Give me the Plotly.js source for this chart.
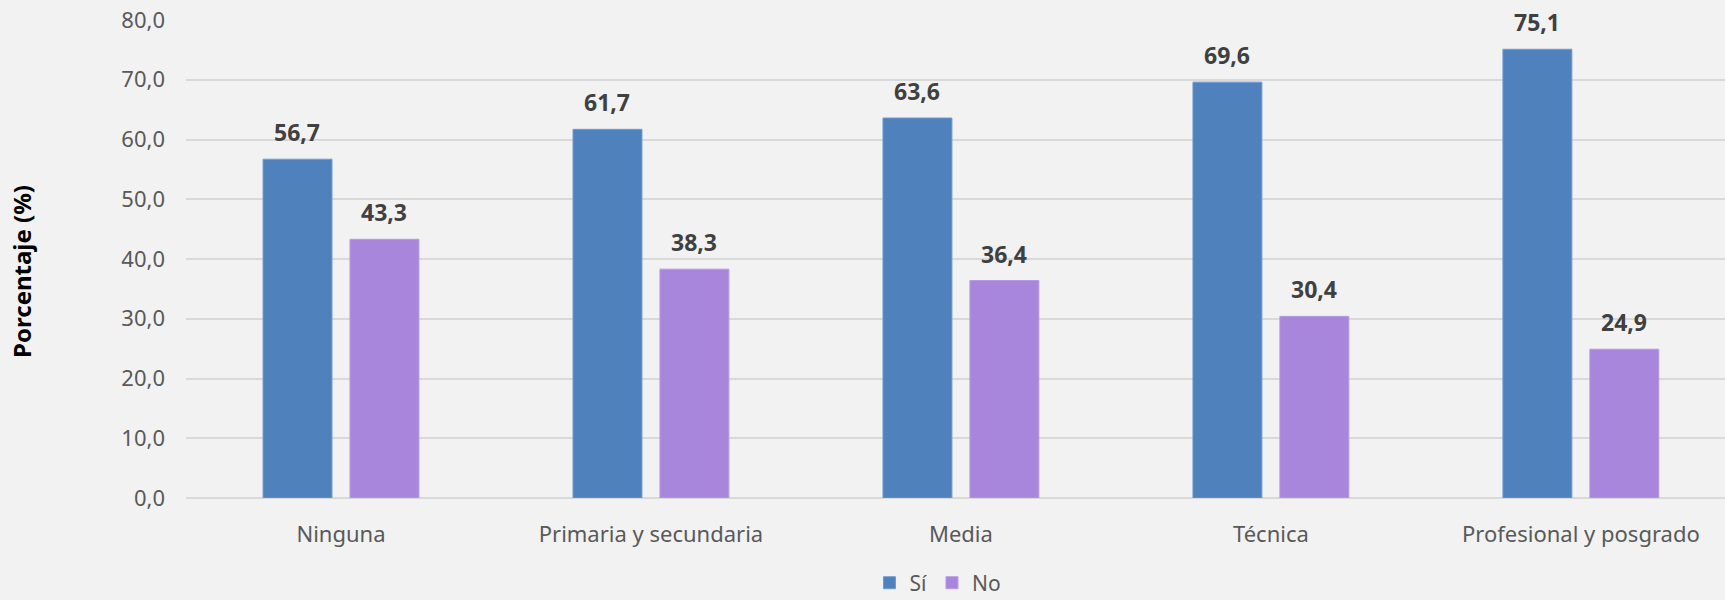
<!DOCTYPE html>
<html>
<head>
<meta charset="utf-8">
<script src="https://cdn.plot.ly/plotly-3.0.1.min.js"></script>
<style>
  html, body { margin: 0; padding: 0; background: #f2f2f2; }
  #chart { width: 1725px; height: 600px; }
</style>
</head>
<body>
<div id="chart"></div>
<script>
const categories = ["Ninguna", "Primaria y secundaria", "Media", "Técnica", "Profesional y posgrado"];
const siValues = [56.7, 61.7, 63.6, 69.6, 75.1];
const noValues = [43.3, 38.3, 36.4, 30.4, 24.9];
const seriesNames = ["Sí", "No"];
const yTickVals = [0, 10, 20, 30, 40, 50, 60, 70, 80];
const yTickText = ["0,0", "10,0", "20,0", "30,0", "40,0", "50,0", "60,0", "70,0", "80,0"];
const yTitle = "Porcentaje (%)";

const fmt = v => v.toFixed(1).replace(".", ",");
const FONT = "'Noto Sans', 'Open Sans', sans-serif";

const traces = [
  {
    type: "bar", name: seriesNames[0], x: categories, y: siValues,
    marker: { color: "#4f81bd", line: { color: "#6f9bd3", width: 1 } },
    hoverinfo: "none"
  },
  {
    type: "bar", name: seriesNames[1], x: categories, y: noValues,
    marker: { color: "#a886db", line: { color: "#b89ae3", width: 1 } },
    hoverinfo: "none"
  }
];

const annotations = [];
[siValues, noValues].forEach((vals, si) => {
  vals.forEach((v, i) => {
    annotations.push({
      x: categories[i], y: v, xref: "x", yref: "y",
      text: "<b>" + fmt(v) + "</b>", showarrow: false,
      xshift: si === 0 ? -43.5 : 43.5, yshift: 9,
      yanchor: "bottom", xanchor: "center",
      font: { family: FONT, size: 23, color: "#404040" }
    });
  });
});
annotations.push({
  xref: "paper", yref: "paper", x: -0.1066, y: 0.475,
  xanchor: "center", yanchor: "middle", textangle: -90,
  text: "<b>" + yTitle + "</b>", showarrow: false,
  font: { family: FONT, size: 24, color: "#000000" }
});

const layout = {
  width: 1725, height: 600,
  paper_bgcolor: "#f2f2f2", plot_bgcolor: "#f2f2f2",
  margin: { l: 186, r: 0, t: 20, b: 102, autoexpand: false },
  barmode: "group", bargap: 0.439, bargroupgap: 0.207,
  font: { family: FONT, size: 22, color: "#595959" },
  showlegend: true,
  legend: {
    orientation: "h", x: 0.4886, xanchor: "center", y: -0.178, yanchor: "middle",
    font: { family: FONT, size: 21, color: "#595959" },
    bgcolor: "rgba(0,0,0,0)", itemwidth: 30, tracegroupgap: 0
  },
  xaxis: {
    type: "category", range: [-0.5, 4.465],
    showgrid: false, zeroline: false, showline: false, ticks: "",
    tickfont: { family: FONT, size: 22, color: "#595959" },
    ticklabelstandoff: 21,
    automargin: false
  },
  yaxis: {
    range: [0, 80], tickvals: yTickVals, ticktext: yTickText,
    showgrid: true, gridcolor: "#d9d9d9", gridwidth: 2,
    zeroline: true, zerolinecolor: "#d9d9d9", zerolinewidth: 2,
    showline: false, ticks: "", ticklabelstandoff: 20,
    tickfont: { family: FONT, size: 22, color: "#595959" },
    automargin: false
  },
  annotations: annotations
};

Plotly.newPlot("chart", traces, layout, { displayModeBar: false, staticPlot: true });
</script>
</body>
</html>
